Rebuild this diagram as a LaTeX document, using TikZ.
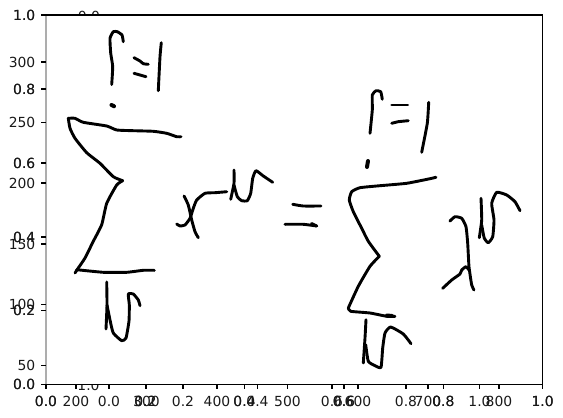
\documentclass[tikz,border=0pt]{standalone}
\usepackage{fontspec}
\setmainfont{DejaVu Sans}
\tikzset{
	inkstroke/.style={line width=2.9pt, line cap=round, line join=round, smooth, tension=0.3},
	inkdot/.style={line width=4pt, line cap=round},
	tickmark/.style={line width=1.1pt, color=black},
	ticktext/.style={inner sep=0pt, color=black!90, font=\fontsize{13.9pt}{16pt}\selectfont},
	frameline/.style={line width=1.1pt, color=black},
}
\def\bottomtick(#1)(#2){\draw[tickmark] (#1, 384.5) -- (#1, 389.4); \node[ticktext, anchor=base] (bt#2) at (#1, 406) {#2};}
\def\lefttick(#1)(#2){\draw[tickmark] (41, #1) -- (46, #1); \node[ticktext, anchor=base east] (lt#2) at (35.5, #1+5.2) {#2};}

\begin{document}
\begin{tikzpicture}[x=1pt, y=-1pt]
		%%%%% START %%%%%
		
		\fill[white] (0, 0) rectangle (563, 418);
		\useasboundingbox (0, 0) rectangle (563, 418);
		
		% labels of the axes lying underneath
		\begin{scope}
			\clip (60, 0) rectangle (120, 14.6);
			\node[ticktext, anchor=base] (hiddentop) at (89, 21.5) {0.0};
		\end{scope}
		\begin{scope}
			\clip (60, 385) rectangle (120, 395);
			\node[ticktext, anchor=base] (hiddenbottom) at (88.5, 390.6) {1.0};
		\end{scope}
		
		% frame
		\draw[line width=1.1pt, color=black!32] (46, 15) -- (46, 384.5);
		\draw[frameline] (41, 15) -- (542.6, 15) -- (542.6, 384.5) -- (46, 384.5);
		
		% left side
		\lefttick(15)(1.0)
		\lefttick(15)(1.0)
		\lefttick(62)(300)
		\lefttick(89)(0.8)
		\lefttick(89)(0.8)
		\lefttick(122.5)(250)
		\lefttick(163)(0.6)
		\lefttick(163)(0.6)
		\lefttick(183)(200)
		\lefttick(237)(0.4)
		\lefttick(237)(0.4)
		\lefttick(244)(150)
		\lefttick(304.5)(100)
		\lefttick(310.5)(0.2)
		\lefttick(310.5)(0.2)
		\lefttick(365.5)(50)
		\lefttick(384.5)(0.0)
		\lefttick(384.5)(0.0)
		
		% bottom side
		\bottomtick(46)(0.0)
		\bottomtick(46)(0.0)
		\bottomtick(76)(200)
		\bottomtick(109)(0.0)
		\bottomtick(145.4)(0.2)
		\bottomtick(145.4)(0.2)
		\bottomtick(146.5)(300)
		\bottomtick(183)(0.2)
		\bottomtick(217)(400)
		\bottomtick(244.5)(0.4)
		\bottomtick(244.5)(0.4)
		\bottomtick(257.5)(0.4)
		\bottomtick(287.5)(500)
		\bottomtick(332)(0.6)
		\bottomtick(344)(0.6)
		\bottomtick(344)(0.6)
		\bottomtick(358)(600)
		\bottomtick(406)(0.8)
		\bottomtick(428)(700)
		\bottomtick(443.3)(0.8)
		\bottomtick(443.3)(0.8)
		\bottomtick(479.5)(1.0)
		\bottomtick(499)(800)
		\bottomtick(542.6)(1.0)
		\bottomtick(542.6)(1.0)
		
		% upper limit, left
		\draw[inkstroke] plot coordinates {(111.7, 84.5) (112.7, 66.7) (110.7, 53) (110, 38.3) (113.3, 31.7) (117.3, 31.7) (122, 35) (123.3, 41.7)};
		\draw[inkstroke] plot coordinates {(134, 57.7) (140, 61) (143.3, 63.7) (148.3, 64.3)};
		\draw[inkstroke] plot coordinates {(134, 73.3) (140, 75) (146, 76.7)};
		\draw[inkstroke] plot coordinates {(161.3, 42.7) (160, 56.7) (158.3, 90.7)};
		\draw[inkdot] (111.5, 105) -- (114, 106.2);
		
		% sum, left
		\draw[inkstroke] plot coordinates {(181, 136.7) (176.7, 136.7) (166.7, 133.3) (153.3, 131.3) (133.3, 130.7) (116.7, 130) (106.7, 126) (83.3, 122.3) (75, 118.3) (68.3, 118.3)};
		\draw[inkstroke] plot coordinates {(68.3, 118.3) (70, 128.3) (75, 138.3) (86.7, 152.7) (100, 163.3) (113.3, 176.7) (122.7, 180.7)};
		\draw[inkstroke] plot coordinates {(122.7, 180.7) (116.7, 185) (106.7, 203.3) (101.7, 224.7) (93.3, 241.3) (85, 258) (78.3, 268) (75, 273)};
		\draw[inkstroke] plot coordinates {(76.7, 269.7) (103.3, 272.3) (126.7, 272.3) (143.3, 270.3) (154.3, 270.3)};
		
		% lower limit, left
		\draw[inkstroke] plot coordinates {(106.7, 282) (107, 305) (106, 329)};
		\draw[inkstroke] plot coordinates {(107, 305) (110, 320) (113.3, 333) (121.7, 340.7) (126, 338) (129, 321) (129.3, 304.7) (128.3, 294) (133.3, 294) (138.3, 300) (140, 305.7)};
		
		% base and exponent
		\draw[inkstroke] plot coordinates {(184, 196) (188.3, 205) (191.7, 220) (195, 231.7) (198.3, 237.7)};
		\draw[inkstroke] plot coordinates {(176.7, 224) (180, 226) (185, 225) (190, 218.3) (193.3, 208.3) (196.7, 200) (205, 193.3) (215, 192.7) (226.7, 191.7)};
		\draw[inkstroke] plot coordinates {(234, 170) (234, 183.3) (230.7, 199.3)};
		\draw[inkstroke] plot coordinates {(234, 185) (237.3, 196.7) (241.7, 200.7) (247.3, 200.7) (250.7, 193.3) (252.7, 178.3) (256, 170.7) (263.3, 176) (272.7, 182.3)};
		
		% equals
		\draw[inkstroke] plot coordinates {(292.7, 204.3) (303.3, 206) (321, 206)};
		\draw[inkstroke] plot coordinates {(285, 224.3) (303.3, 224.3) (316.7, 226)};
		\draw[inkstroke] plot coordinates {(311.5, 223.5) (316.7, 226)};
		
		% upper limit, right
		\draw[inkstroke] plot coordinates {(370, 133.3) (372.3, 110) (372.3, 95) (376, 90.7) (380.7, 91.7) (382.3, 99.3)};
		\draw[inkstroke] plot coordinates {(391.7, 105) (407.7, 105)};
		\draw[inkstroke] plot coordinates {(391.7, 123.3) (398.3, 121.7) (408.3, 120.7)};
		\draw[inkstroke] plot coordinates {(428.7, 102.3) (427.3, 123.3) (421.7, 152.3)};
		\draw[inkdot] (368, 161) -- (367, 167);
		
		% sum, right
		\draw[inkstroke] plot coordinates {(436, 177.3) (430, 178.7) (406.7, 183.3) (380, 185.7) (360, 187.7) (351.7, 191.7) (349.3, 200) (353.3, 211.7) (361.7, 228.3) (368.3, 241.3) (379.3, 256.3)};
		\draw[inkstroke] plot coordinates {(379.3, 256.3) (370, 266.3) (358.3, 286.3) (348.3, 308)};
		\draw[inkstroke] plot coordinates {(348.3, 308) (350.7, 311.3) (370, 313) (386.7, 316.3) (395, 316.3)};
		\draw[inkdot] (387, 315.5) -- (392, 316);
		
		% lower limit, right
		\draw[inkstroke] plot coordinates {(366, 319.7) (365, 338) (363.3, 363)};
		\draw[inkstroke] plot coordinates {(365.7, 344.7) (368.3, 361.3) (375, 365.7) (381, 367.3) (382.7, 348) (385, 333) (390.7, 327) (403.3, 334) (411, 343.7)};
		
		% lambda and exponent
		\draw[inkstroke] plot coordinates {(450, 221) (455, 216.7) (461.7, 218.3) (466, 226.7) (467.7, 243.3) (469, 266.7) (471.7, 285) (474, 290)};
		\draw[inkstroke] plot coordinates {(442.7, 288.3) (451.7, 280) (460, 274) (461.7, 270) (466, 266.7) (469, 270)};
		\draw[inkstroke] plot coordinates {(481, 198.3) (481.7, 220) (479.3, 237.7)};
		\draw[inkstroke] plot coordinates {(481.7, 225) (484.3, 238.3) (488.3, 242.7) (492.7, 236.7) (494, 220) (491.7, 203.3) (496.7, 192.3) (506.7, 195) (515, 201.7) (520, 210.7)};
		
		%%%%% END %%%%%
	\end{tikzpicture}
\end{document}
